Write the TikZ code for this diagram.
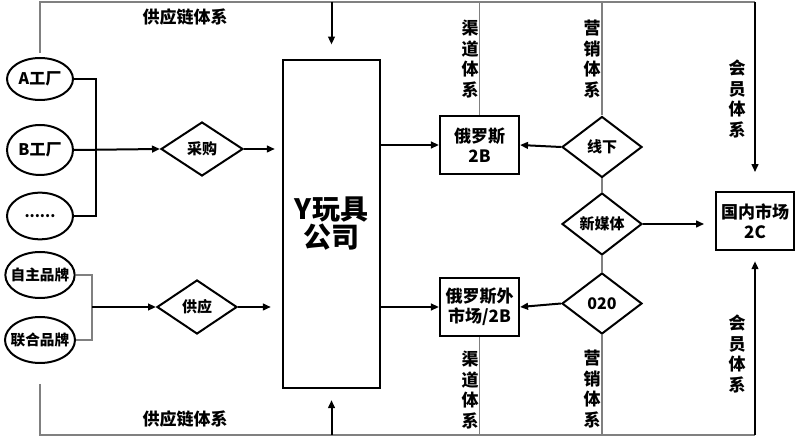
\documentclass[tikz,border=0pt]{standalone}
\usepackage{fontspec}
\setmainfont{Noto Sans CJK SC}
\usetikzlibrary{shapes.geometric,arrows.meta}
\begin{document}
\begin{tikzpicture}[x=0.75pt,y=-0.75pt,
  every node/.style={font=\bfseries},
  ell/.style={ellipse,draw,line width=1.5pt,inner sep=0pt,
    label={[font=\bfseries\fontsize{11}{13}\selectfont,inner sep=0pt]center:#1}},
  ellb/.style={ellipse,draw,line width=1.5pt,inner sep=0pt,
    label={[font=\bfseries\fontsize{12}{13}\selectfont,inner sep=0pt]center:#1}},
  dia/.style={diamond,draw,line width=1.5pt,inner sep=0pt,minimum width=60pt,
    font=\bfseries\fontsize{11.25}{13}\selectfont},
  box/.style={rectangle,draw,line width=1.8pt,inner sep=0pt,minimum width=59pt,
    minimum height=43.5pt,align=center,font=\bfseries\fontsize{12.75}{15}\selectfont},
  arr/.style={line width=1.5pt,-{Triangle[length=6pt,width=5pt]}},
  ln/.style={line width=1.5pt},
  gl/.style={line width=1pt,draw=gray},
  lbl/.style={font=\bfseries\fontsize{12.75}{15}\selectfont,inner sep=0pt},
  vlbl/.style={align=center,font=\bfseries\fontsize{12.75}{15.4}\selectfont,inner sep=0pt},
]
\fill[white] (0,0) rectangle (800,441);
\useasboundingbox (0,0) rectangle (800,441);

% frame coordinates
\coordinate (TL) at (40,2);
\coordinate (TR) at (755,2);
\coordinate (BL) at (40,435);
\coordinate (BR) at (755,435);
\coordinate (fx) at (96,0);
\coordinate (bx) at (92,0);

% left ellipses
\node[ellb=A工厂, minimum width=49.5pt, minimum height=31.5pt] (A) at (40,79) {};
\node[ellb=B工厂, minimum width=49.5pt, minimum height=37.5pt] (B) at (40,150) {};
\node[ell=......, minimum width=49.5pt, minimum height=35pt] (dots) at (40,216) {};
\node[ell=自主品牌, minimum width=52pt, minimum height=34.5pt] (zz) at (40,275) {};
\node[ell=联合品牌, minimum width=52.5pt, minimum height=34.5pt] (lh) at (40,340) {};

% diamonds
\node[dia, minimum width=61.5pt, minimum height=40.5pt] (cg) at (202,149) {采购};
\node[dia, minimum width=60pt, minimum height=40.5pt] (gy) at (197,307) {供应};
\node[dia, minimum height=45.75pt] (xx) at (602,147) {线下};
\node[dia, minimum height=46.5pt] (xmt) at (602,224) {新媒体};
\node[dia, minimum height=45.75pt, font=\bfseries\fontsize{12}{13}\selectfont] (oo) at (602,303.5) {020};

% company
\node[rectangle,draw,line width=2.2pt,minimum width=72.75pt,minimum height=246pt,
  align=center,inner sep=0pt,font=\bfseries\fontsize{21}{21}\selectfont] (Y) at (331.5,224) {Y玩具\\公司};

% right boxes
\node[box] (b1) at (479.5,145) {俄罗斯\\2B};
\node[box] (b2) at (479.5,307) {俄罗斯外\\市场/2B};
\node[box, minimum width=58.5pt] (gn) at (755,221) {国内市场\\2C};

% labels
\node[lbl] (t1) at (185,17) {供应链体系};
\node[lbl] (t2) at (185,419) {供应链体系};
\node[vlbl] (q1) at (470,59) {渠\\道\\体\\系};
\node[vlbl] (q2) at (470,390) {渠\\道\\体\\系};
\node[vlbl] (y1) at (592,59) {营\\销\\体\\系};
\node[vlbl] (y2) at (592,389) {营\\销\\体\\系};
\node[vlbl] (h1) at (737,99) {会\\员\\体\\系};
\node[vlbl] (h2) at (737,354) {会\\员\\体\\系};

% factory bracket
\draw[ln] (A.east) -- (A.east -| fx) -- (dots.east -| fx) -- (dots.east);
\draw[arr] (B.east) -- (cg.west);
\draw[arr, shorten >=5pt] (cg.east) -- (cg.east -| Y.west);

% brand bracket
\draw[gl] (zz.east) -- (zz.east -| bx) -- (lh.east -| bx) -- (lh.east);
\draw[arr] (gy.west -| bx) -- (gy.west);
\draw[arr, shorten >=8pt] (gy.east) -- (gy.east -| Y.west);

% company to markets
\draw[arr] (b1.west -| Y.east) -- (b1.west);
\draw[arr] (b2.west -| Y.east) -- (b2.west);
\draw[arr] (xx.west) -- (b1.east);
\draw[arr] (oo.west) -- (b2.east);
\draw[arr, shorten >=8pt] (xmt.east) -- (xmt.east -| gn.west);
\draw[gl] (xx.south) -- (xmt.north);
\draw[gl] (xmt.south) -- (oo.north);

% top frame
\draw[gl, shorten <=3pt] (A.north) -- (TL) -- (TR);
\draw[arr, shorten >=10.5pt] (Y.north |- TL) -- (Y.north);
\draw[gl] (b1.north |- TL) -- (b1.north);
\draw[gl] (xx.north |- TL) -- (xx.north);
\draw[arr, shorten >=14pt] (TR) -- (gn.north);

% bottom frame
\draw[gl, shorten <=15pt] (lh.south) -- (BL) -- (BR);
\draw[arr, shorten >=8pt] (Y.south |- BL) -- (Y.south);
\draw[gl] (b2.south) -- (b2.south |- BL);
\draw[gl] (oo.south) -- (oo.south |- BL);
\draw[arr, shorten >=7.5pt] (BR) -- (gn.south);
\end{tikzpicture}
\end{document}
